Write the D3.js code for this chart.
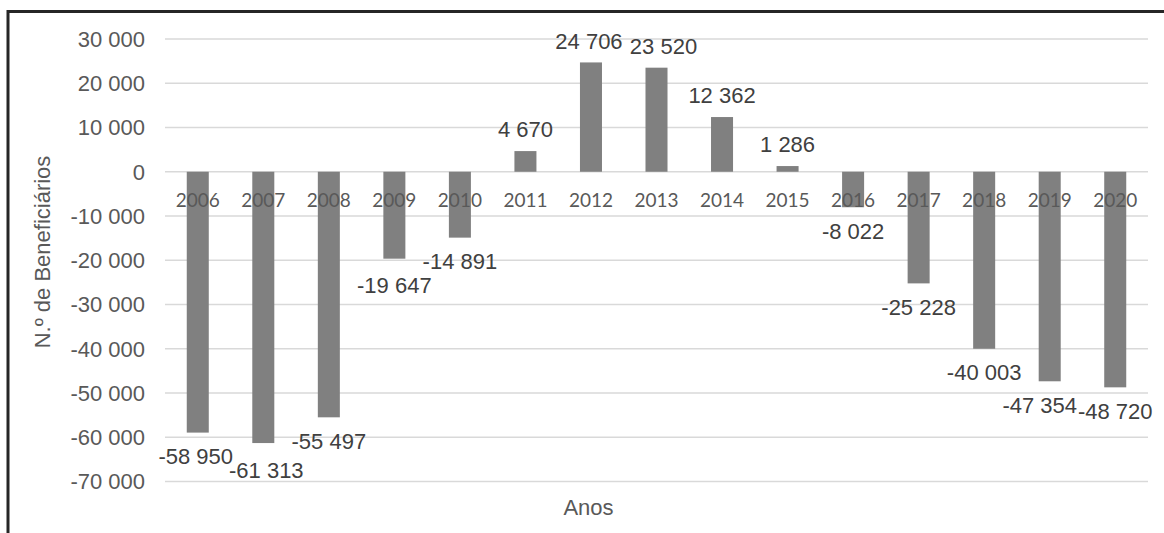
<!DOCTYPE html>
<html>
<head>
<meta charset="utf-8">
<script src="https://cdn.jsdelivr.net/npm/d3@7"></script>
<style>
  html, body { margin: 0; padding: 0; background: #fff; }
  svg { display: block; }
</style>
</head>
<body>
<div id="chart"></div>
<script>
const years = ["2006","2007","2008","2009","2010","2011","2012","2013","2014","2015","2016","2017","2018","2019","2020"];
const values = [-58950,-61313,-55497,-19647,-14891,4670,24706,23520,12362,1286,-8022,-25228,-40003,-47354,-48720];
const yTicks = [30000,20000,10000,0,-10000,-20000,-30000,-40000,-50000,-60000,-70000];
const yTitle = "N.º de Beneficiários";
const xTitle = "Anos";

const W = 1164, H = 533;
const svg = d3.select("#chart").append("svg").attr("width", W).attr("height", H);

const x = d3.scaleBand().domain(years).range([165, 1148]).padding(0);
const y = d3.scaleLinear().domain([-70000, 30000]).range([481.5, 39]);

const locale = d3.formatLocale({decimal: ",", thousands: " ", grouping: [3], currency: ["", ""], minus: "-"});
const fmt = locale.format(",d");

const arial = "'Liberation Sans', Arial, sans-serif";
const FS = 22;

// gridlines
svg.append("g").selectAll("line").data(yTicks).join("line")
  .attr("x1", 165).attr("x2", 1148)
  .attr("y1", d => y(d)).attr("y2", d => y(d))
  .attr("stroke", "#d9d9d9").attr("stroke-width", 1.3);

// y tick labels
svg.append("g").selectAll("text").data(yTicks).join("text")
  .attr("x", 145).attr("y", d => y(d)).attr("dy", "0.36em")
  .attr("text-anchor", "end")
  .attr("font-family", arial).attr("font-size", FS).attr("fill", "#595959")
  .text(d => fmt(d));

// bars
const barW = x.bandwidth() * 0.336;
svg.append("g").selectAll("rect").data(values).join("rect")
  .attr("x", (d, i) => x(years[i]) + x.bandwidth() / 2 - barW / 2)
  .attr("width", barW)
  .attr("y", d => y(Math.max(0, d)))
  .attr("height", d => Math.abs(y(d) - y(0)))
  .attr("fill", "#808080");

// x category labels
svg.append("g").selectAll("text").data(years).join("text")
  .attr("x", d => x(d) + x.bandwidth() / 2).attr("y", 206.5)
  .attr("text-anchor", "middle")
  .attr("font-family", "Lato, 'Open Sans', sans-serif").attr("font-size", 19).attr("fill", "#595959")
  .text(d => d);

// data labels (small manual nudges to avoid overlap, as in the original)
const nudgeY = {"2007": 4, "2009": 3};
const nudgeX = {"2006": -2, "2007": 3, "2012": -2, "2013": 7, "2019": -10};
svg.append("g").selectAll("text").data(values).join("text")
  .attr("x", (d, i) => x(years[i]) + x.bandwidth() / 2 + (nudgeX[years[i]] || 0))
  .attr("y", (d, i) => d >= 0 ? y(d) - 13.6 : y(d) + 31.4 + (nudgeY[years[i]] || 0))
  .attr("text-anchor", "middle")
  .attr("font-family", arial).attr("font-size", FS).attr("fill", "#404040")
  .text(d => fmt(d));

// axis titles
svg.append("text")
  .attr("transform", "translate(50,252) rotate(-90)")
  .attr("text-anchor", "middle")
  .attr("font-family", arial).attr("font-size", FS).attr("fill", "#595959")
  .text(yTitle);

svg.append("text")
  .attr("x", 588.5).attr("y", 515)
  .attr("text-anchor", "middle")
  .attr("font-family", arial).attr("font-size", FS).attr("fill", "#595959")
  .text(xTitle);

// frame
svg.append("path")
  .attr("d", `M8,${H} V11.5 H${W}`)
  .attr("fill", "none").attr("stroke", "#262626").attr("stroke-width", 3);
</script>
</body>
</html>
